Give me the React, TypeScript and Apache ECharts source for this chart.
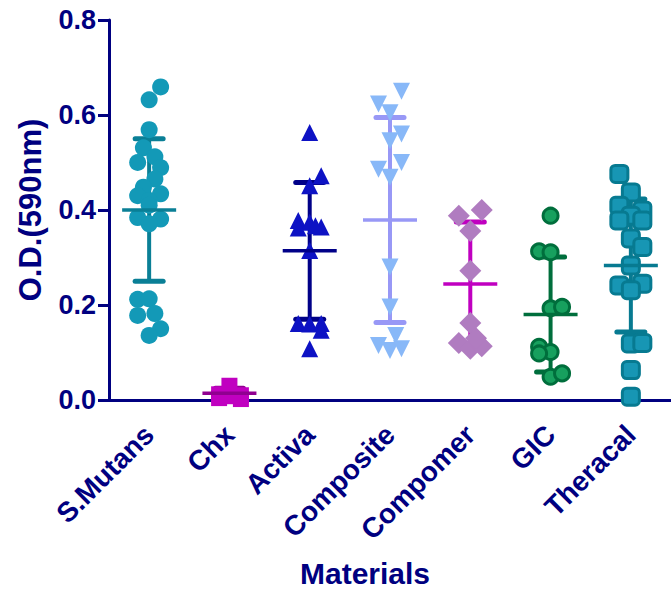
import React, { useEffect, useRef } from "react";
import * as echarts from "echarts";

const categories = ["S.Mutans", "Chx", "Activa", "Composite", "Compomer", "GIC", "Theracal"];

const sMutansValues = [0.659, 0.632, 0.569, 0.531, 0.512, 0.5, 0.489, 0.465, 0.448, 0.434, 0.43, 0.42, 0.41, 0.384, 0.381, 0.371, 0.212, 0.213, 0.178, 0.182, 0.15, 0.136];
const sMutansOffsets = [1, 0, 0, -0.5, 0.5, -1, 1, 0.5, -0.5, 1, -1, 0, 0, -1, 1, 0, -1, 0, -1, 0.5, 1, 0];

const chxValues = [0.03, 0.012, 0.01, 0.004, 0.008, 0.002];
const chxOffsets = [0, -0.9, 1, -0.9, 0, 1];

const activaValues = [0.563, 0.472, 0.451, 0.378, 0.374, 0.364, 0.362, 0.367, 0.315, 0.161, 0.16, 0.161, 0.147, 0.108];
const activaOffsets = [0, 1, 0, -1, 0, 1, -1, 0.5, 0, -1, 0, 1, 1, 0];

const compositeValues = [0.65, 0.623, 0.605, 0.56, 0.546, 0.5, 0.486, 0.469, 0.28, 0.196, 0.136, 0.115, 0.104, 0.108];
const compositeOffsets = [1, -1, 0, 1, 0, 1, -1, 0, 0, 0, 0.5, -1, 0, 1];

const compomerValues = [0.388, 0.4, 0.356, 0.272, 0.162, 0.12, 0.108, 0.113, 0.13];
const compomerOffsets = [-1, 1, 0, 0, 0, -1, 0, 1, 0.5];

const gicValues = [0.388, 0.313, 0.311, 0.193, 0.196, 0.112, 0.101, 0.098, 0.049, 0.056];
const gicOffsets = [0, -1, 0, 0, 1, -1, 0, -1, 0, 1];

const theracalValues = [0.476, 0.437, 0.409, 0.399, 0.388, 0.378, 0.378, 0.34, 0.322, 0.241, 0.245, 0.231, 0.283, 0.119, 0.12, 0.063, 0.007];
const theracalOffsets = [-1, 0, -1, 1, 0, -1, 1, 0, 1, -1, 1, 0, 0, 0, 1, 0, 0];

const means = [0.4, 0.014, 0.314, 0.379, 0.244, 0.18, 0.283];
const sds = [0.15, 0.011, 0.144, 0.216, 0.131, 0.121, 0.14];

const barColors = ["#0a7f96", "#900090", "#000088", "#9898f6", "#c000c0", "#006e3c", "#077a91"];

const NAVY = "#000080";
const FONT = 'Arial, "Liberation Sans", sans-serif';
const JITTER = 0.143;

function pts(values: number[], offsets: number[], group: number) {
  return values.map((v, i) => [group + offsets[i] * JITTER, v]);
}

export default function App() {
  const ref = useRef<HTMLDivElement>(null);
  useEffect(() => {
    if (!ref.current) return;
    const chart = echarts.init(ref.current, null, { renderer: "svg" });
    const scatterBase = { type: "scatter", xAxisIndex: 1, yAxisIndex: 0, z: 2, silent: true };
    const option: any = {
      animation: false,
      grid: { left: 109, top: 20, width: 571, height: 380, containLabel: false },
      xAxis: [
        {
          type: "category",
          data: categories,
          boundaryGap: true,
          axisLine: { onZero: false, lineStyle: { color: NAVY, width: 3 } },
          axisTick: { alignWithLabel: true, length: 10, lineStyle: { color: NAVY, width: 3 } },
          axisLabel: { rotate: 45, margin: 30, color: NAVY, fontWeight: "bold", fontSize: 28, fontFamily: FONT, interval: 0 },
          splitLine: { show: false },
        },
        { type: "value", min: -0.5, max: 6.5, show: false },
      ],
      yAxis: {
        type: "value",
        min: 0,
        max: 0.8,
        interval: 0.2,
        axisLine: { show: true, onZero: false, lineStyle: { color: NAVY, width: 3 } },
        axisTick: { show: true, length: 11, lineStyle: { color: NAVY, width: 3 } },
        axisLabel: { margin: 13, color: NAVY, fontWeight: "bold", fontSize: 27, fontFamily: FONT, formatter: (v: number) => v.toFixed(1) },
        splitLine: { show: false },
      },
      graphic: [
        {
          type: "text",
          x: 30,
          y: 210,
          rotation: Math.PI / 2,
          style: { text: "O.D.(590nm)", fill: NAVY, font: `bold 31px ${FONT}`, textAlign: "center", textVerticalAlign: "middle" },
        },
        {
          type: "text",
          x: 365,
          y: 573,
          style: { text: "Materials", fill: NAVY, font: `bold 30px ${FONT}`, textAlign: "center", textVerticalAlign: "middle" },
        },
      ],
      series: [
        {
          type: "custom",
          xAxisIndex: 1,
          yAxisIndex: 0,
          z: 1,
          silent: true,
          clip: false,
          data: means.map((m, i) => [i, m, sds[i]]),
          renderItem: (params: any, api: any) => {
            const x = api.value(0), m = api.value(1), s = api.value(2);
            const top = api.coord([x, m + s]);
            const bot = api.coord([x, m - s]);
            const c = barColors[params.dataIndex];
            return {
              type: "group",
              children: [
                { type: "line", shape: { x1: top[0], y1: top[1], x2: bot[0], y2: bot[1] }, style: { stroke: c, lineWidth: 4 } },
                { type: "line", shape: { x1: top[0] - 14, y1: top[1], x2: top[0] + 14, y2: top[1] }, style: { stroke: c, lineWidth: 5, lineCap: "round" } },
                { type: "line", shape: { x1: bot[0] - 14, y1: bot[1], x2: bot[0] + 14, y2: bot[1] }, style: { stroke: c, lineWidth: 5, lineCap: "round" } },
              ],
            };
          },
        },
        {
          type: "custom",
          xAxisIndex: 1,
          yAxisIndex: 0,
          z: 4,
          silent: true,
          clip: false,
          data: means.map((m, i) => [i, m]),
          renderItem: (params: any, api: any) => {
            const p = api.coord([api.value(0), api.value(1)]);
            const c = barColors[params.dataIndex];
            return { type: "line", shape: { x1: p[0] - 27, y1: p[1], x2: p[0] + 27, y2: p[1] }, style: { stroke: c, lineWidth: 3.5 } };
          },
        },
        { ...scatterBase, symbol: "circle", symbolSize: 17, itemStyle: { color: "#1399b7", opacity: 1 }, data: pts(sMutansValues, sMutansOffsets, 0) },
        { ...scatterBase, symbol: "rect", symbolSize: 16, itemStyle: { color: "#c000c0", opacity: 1 }, data: pts(chxValues, chxOffsets, 1) },
        { ...scatterBase, symbol: "triangle", symbolSize: 17, itemStyle: { color: "#0d12c4", opacity: 1 }, data: pts(activaValues, activaOffsets, 2) },
        { ...scatterBase, symbol: "triangle", symbolRotate: 180, symbolSize: 17, itemStyle: { color: "#88b8f8", opacity: 1 }, data: pts(compositeValues, compositeOffsets, 3) },
        { ...scatterBase, symbol: "diamond", symbolSize: 22, itemStyle: { color: "#b07cc0", opacity: 1 }, data: pts(compomerValues, compomerOffsets, 4) },
        { ...scatterBase, symbol: "circle", symbolSize: 15, itemStyle: { color: "#17a05e", borderColor: "#006e3c", borderWidth: 3, opacity: 1 }, data: pts(gicValues, gicOffsets, 5) },
        { ...scatterBase, symbol: "roundRect", symbolSize: 17, itemStyle: { color: "#1796b4", borderColor: "#077a91", borderWidth: 3, opacity: 1 }, data: pts(theracalValues, theracalOffsets, 6) },
      ],
    };
    chart.setOption(option);
    return () => chart.dispose();
  }, []);
  return <div ref={ref} style={{ position: "absolute", left: 0, top: 0, width: 671, height: 593 }} />;
}
